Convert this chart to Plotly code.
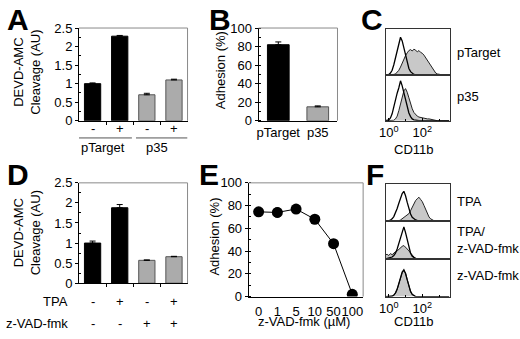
import plotly.graph_objects as go

W, H = 520, 339
FONT = "Arial, Liberation Sans, sans-serif"

# ---------------- data ----------------
# Panel A
a_groups = ["pTarget", "p35"]
a_signs = ["-", "+", "-", "+"]
a_values = [1.00, 2.28, 0.70, 1.10]
a_errors = [0.02, 0.02, 0.04, 0.02]

# Panel B
b_categories = ["pTarget", "p35"]
b_values = [82, 15]
b_errors = [3, 1]

# Panel D
d_tpa = ["-", "+", "-", "+"]
d_zvad = ["-", "-", "+", "+"]
d_values = [1.00, 1.88, 0.57, 0.66]
d_errors = [0.05, 0.08, 0.01, 0.01]

# Panel E
e_doses = ["0", "1", "5", "10", "50", "100"]
e_values = [74.5, 74.0, 77.0, 68.0, 46.5, 2.0]
e_errors = [1.5, 4.0, 1.5, 1.5, 2.0, 1.0]

# Flow histograms (log10 CD11b bins, relative counts)
hist_bins = [-0.2, -0.1, 0.0, 0.1, 0.2, 0.3, 0.4, 0.5, 0.6, 0.7, 0.8, 0.9, 1.0,
             1.1, 1.2, 1.3, 1.4, 1.5, 1.6, 1.7, 1.8, 1.9, 2.0, 2.1, 2.2, 2.3,
             2.4, 2.5, 2.6, 2.7, 2.8, 2.9, 3.0, 3.1, 3.2, 3.3, 3.4, 3.5, 3.6]
c_ptarget_open = [0, 0, 0.01, 0.04, 0.10, 0.22, 0.38, 0.50, 0.63, 0.82, 0.74, 0.58, 0.40,
                  0.26, 0.14, 0.07, 0.03, 0.01, 0, 0, 0, 0, 0, 0, 0, 0,
                  0, 0, 0, 0, 0, 0, 0, 0, 0, 0, 0, 0, 0]
c_ptarget_fill = [0, 0, 0, 0, 0, 0.01, 0.02, 0.05, 0.10, 0.17, 0.26, 0.35, 0.42,
                  0.48, 0.53, 0.55, 0.52, 0.56, 0.54, 0.50, 0.53, 0.49, 0.47, 0.43, 0.37, 0.31,
                  0.25, 0.19, 0.13, 0.08, 0.04, 0.02, 0.01, 0, 0, 0, 0, 0, 0]
c_p35_open = [0, 0.01, 0.02, 0.06, 0.15, 0.30, 0.47, 0.60, 0.72, 0.87, 0.76, 0.62, 0.46,
              0.30, 0.17, 0.09, 0.04, 0.02, 0.01, 0, 0, 0, 0, 0, 0, 0,
              0, 0, 0, 0, 0, 0, 0, 0, 0, 0, 0, 0, 0]
c_p35_fill = [0, 0, 0, 0, 0, 0.01, 0.04, 0.10, 0.22, 0.38, 0.55, 0.65, 0.70,
              0.62, 0.50, 0.37, 0.26, 0.18, 0.13, 0.10, 0.08, 0.07, 0.06, 0.05, 0.05, 0.04,
              0.04, 0.03, 0.02, 0.02, 0.01, 0, 0, 0, 0, 0, 0, 0, 0]
f_tpa_open = [0, 0, 0.01, 0.03, 0.06, 0.12, 0.22, 0.34, 0.48, 0.62, 0.74, 0.80, 0.68,
              0.50, 0.33, 0.19, 0.10, 0.05, 0.03, 0.02, 0.01, 0, 0, 0, 0, 0,
              0, 0, 0, 0, 0, 0, 0, 0, 0, 0, 0, 0, 0]
f_tpa_fill = [0, 0, 0, 0, 0, 0, 0, 0, 0.01, 0.03, 0.06, 0.09, 0.12,
              0.15, 0.20, 0.28, 0.38, 0.48, 0.55, 0.60, 0.64, 0.58, 0.52, 0.42, 0.30, 0.19,
              0.11, 0.06, 0.03, 0.01, 0, 0, 0, 0, 0, 0, 0, 0, 0]
f_tpazvad_open = [0.01, 0.02, 0.03, 0.04, 0.06, 0.10, 0.16, 0.27, 0.42, 0.60, 0.77, 0.85, 0.70,
                  0.50, 0.30, 0.16, 0.08, 0.04, 0.02, 0.01, 0, 0, 0, 0, 0, 0,
                  0, 0, 0, 0, 0, 0, 0, 0, 0, 0, 0, 0, 0]
f_tpazvad_fill = [0.12, 0.13, 0.10, 0.15, 0.12, 0.17, 0.20, 0.22, 0.27, 0.30, 0.34, 0.36, 0.30,
                  0.27, 0.22, 0.16, 0.10, 0.06, 0.03, 0.01, 0, 0, 0, 0, 0, 0,
                  0, 0, 0, 0, 0, 0, 0, 0, 0, 0, 0, 0, 0]
f_zvad_open = [0, 0, 0, 0, 0.01, 0.04, 0.10, 0.20, 0.34, 0.52, 0.66, 0.72, 0.62,
               0.45, 0.28, 0.14, 0.06, 0.02, 0, 0, 0, 0, 0, 0, 0, 0,
               0, 0, 0, 0, 0, 0, 0, 0, 0, 0, 0, 0, 0]
f_zvad_fill = [0, 0, 0, 0, 0.01, 0.03, 0.09, 0.19, 0.33, 0.50, 0.64, 0.70, 0.63,
               0.46, 0.27, 0.13, 0.05, 0.02, 0, 0, 0, 0, 0, 0, 0, 0,
               0, 0, 0, 0, 0, 0, 0, 0, 0, 0, 0, 0, 0]
hist_tickvals = [0, 2]
hist_ticktext = ["10<sup>0</sup>", "10<sup>2</sup>"]
hist_minorvals = [1, 3]

# ---------------- helpers ----------------
def fx(p):
    return p / W


def fy(p):
    return 1 - p / H


BLACK = "#000000"
GRAYBAR = "#ababab"
GRAYFILL = "#c8c8c8"
BORDER = "#8a8a8a"

fig = go.Figure()

# axis boxes (pixel coordinates)
boxes = {
    1: ((73, 183), (22, 119)),    # A
    2: ((255, 335), (22, 119)),   # B
    3: ((384, 449), (23, 71)),    # C top
    4: ((384, 449), (71, 119)),   # C bottom
    5: ((73, 183), (184, 289)),   # D
    6: ((245, 361), (184, 303)),  # E
    7: ((384, 449), (185, 224)),  # F1
    8: ((384, 449), (224, 264)),  # F2
    9: ((384, 449), (264, 303)),  # F3
}


def key(n, ax):
    return ax + ("" if n == 1 else str(n))


def ref(n, ax):
    return ax[0] + ("" if n == 1 else str(n))


tickfont = dict(family=FONT, size=13, color=BLACK)
layout = {}
for n, ((x0, x1), (y0, y1)) in boxes.items():
    layout[key(n, "xaxis")] = dict(domain=[fx(x0), fx(x1)], anchor=ref(n, "y"),
                                   showgrid=False, zeroline=False, tickfont=tickfont)
    layout[key(n, "yaxis")] = dict(domain=[fy(y1), fy(y0)], anchor=ref(n, "x"),
                                   showgrid=False, zeroline=False, tickfont=tickfont)

bar_colors = [BLACK, BLACK, GRAYBAR, GRAYBAR]
bar_lines = ["#000000", "#000000", "#555555", "#555555"]

# Panel A bars
fig.add_trace(go.Bar(
    x=list(range(len(a_values))), y=a_values, width=0.6,
    marker=dict(color=bar_colors, line=dict(color=bar_lines, width=1)),
    error_y=dict(type="data", array=a_errors, arrayminus=[0] * len(a_errors),
                 symmetric=False, color=BLACK, thickness=1, width=3),
    xaxis="x", yaxis="y", showlegend=False))

# Panel B bars
fig.add_trace(go.Bar(
    x=b_categories, y=b_values, width=0.55,
    marker=dict(color=[BLACK, GRAYBAR], line=dict(color=["#000000", "#555555"], width=1)),
    error_y=dict(type="data", array=b_errors, arrayminus=[0] * len(b_errors),
                 symmetric=False, color=BLACK, thickness=1, width=3),
    xaxis="x2", yaxis="y2", showlegend=False))

# Panel D bars
fig.add_trace(go.Bar(
    x=list(range(len(d_values))), y=d_values, width=0.6,
    marker=dict(color=bar_colors, line=dict(color=bar_lines, width=1)),
    error_y=dict(type="data", array=d_errors, arrayminus=[0] * len(d_errors),
                 symmetric=False, color=BLACK, thickness=1, width=3),
    xaxis="x5", yaxis="y5", showlegend=False))

# Panel E line
fig.add_trace(go.Scatter(
    x=list(range(len(e_values))), y=e_values, mode="lines+markers",
    line=dict(color=BLACK, width=1), marker=dict(color=BLACK, size=11),
    error_y=dict(type="data", array=e_errors, color=BLACK, thickness=1, width=2),
    xaxis="x6", yaxis="y6", showlegend=False))

# Histograms
hists = [
    (3, c_ptarget_fill, c_ptarget_open),
    (4, c_p35_fill, c_p35_open),
    (7, f_tpa_fill, f_tpa_open),
    (8, f_tpazvad_fill, f_tpazvad_open),
    (9, f_zvad_fill, f_zvad_open),
]
for n, filled, open_ in hists:
    fig.add_trace(go.Scatter(x=hist_bins, y=filled, mode="lines", fill="tozeroy",
                             fillcolor=GRAYFILL, line=dict(color="#222222", width=1),
                             xaxis=ref(n, "x"), yaxis=ref(n, "y"), showlegend=False))
    fig.add_trace(go.Scatter(x=hist_bins, y=open_, mode="lines",
                             line=dict(color=BLACK, width=1.3),
                             xaxis=ref(n, "x"), yaxis=ref(n, "y"), showlegend=False))

# ---------- axis styling ----------
axline = dict(showline=True, linecolor=BLACK, linewidth=1)
# A and D
for n, vals in ((1, a_values), (5, d_values)):
    layout[key(n, "xaxis")].update(axline, range=[-0.5, len(vals) - 0.5],
                                   tickvals=[0.5, 1.5, 2.5], showticklabels=False,
                                   ticks="outside", ticklen=3, tickcolor=BLACK)
    layout[key(n, "yaxis")].update(axline, range=[0, 2.5], tickvals=[0, 0.5, 1, 1.5, 2, 2.5],
                                   ticks="outside", ticklen=3, tickcolor=BLACK,
                                   minor=dict(tickvals=[0.25, 0.75, 1.25, 1.75, 2.25],
                                              ticks="inside", ticklen=2, tickcolor=BLACK))
# B
layout["xaxis2"].update(axline, range=[-0.5, 1.5], ticks="", tickangle=0)
layout["yaxis2"].update(axline, range=[0, 100], dtick=20, ticks="outside", ticklen=3,
                        tickcolor=BLACK,
                        minor=dict(dtick=10, ticks="inside", ticklen=2, tickcolor=BLACK))
# E
layout["xaxis6"].update(axline, range=[-0.53, 5.58], tickvals=list(range(len(e_doses))),
                        ticktext=e_doses, ticks="", tickangle=0, ticklabelstandoff=3)
layout["yaxis6"].update(axline, range=[0, 100], dtick=20, ticks="outside", ticklen=3,
                        tickcolor=BLACK,
                        minor=dict(dtick=10, ticks="inside", ticklen=2, tickcolor=BLACK))
# histogram panels
for n in (3, 4, 7, 8, 9):
    last = n in (4, 9)
    layout[key(n, "xaxis")].update(showline=True, linecolor="#333333", linewidth=1, mirror=True,
                                   range=[-0.176, 3.65], tickvals=hist_tickvals,
                                   ticktext=hist_ticktext, tickangle=0,
                                   showticklabels=last, ticks="inside" if last else "",
                                   ticklen=3, tickcolor=BLACK,
                                   minor=dict(tickvals=hist_minorvals,
                                              ticks="inside" if last else "",
                                              ticklen=2, tickcolor=BLACK))
    layout[key(n, "yaxis")].update(showline=True, linecolor="#333333", linewidth=1, mirror=True,
                                   range=[0, 1.0], showticklabels=False, ticks="")

# ---------- shapes ----------
shapes = []
for n in (1, 2, 5, 6):
    xr, yr = ref(n, "x") + " domain", ref(n, "y") + " domain"
    shapes.append(dict(type="line", xref=xr, yref=yr, x0=0, x1=1, y0=1, y1=1,
                       line=dict(color=BORDER, width=1)))
    shapes.append(dict(type="line", xref=xr, yref=yr, x0=1, x1=1, y0=0, y1=1,
                       line=dict(color=BORDER, width=1)))
# group underlines in A
for g_i in range(len(a_groups)):
    shapes.append(dict(type="line", xref="x", yref="paper",
                       x0=2 * g_i - 0.55 + (0.15 if g_i else 0), x1=2 * g_i + 1.45 + (0.05 if g_i else 0),
                       y0=fy(137), y1=fy(137), line=dict(color="#555555", width=1)))

# ---------- annotations ----------
ann = []


def text(x, y, t, size=13, xanchor="center", yanchor="middle", xref="paper", bold=False,
         angle=0):
    ann.append(dict(x=x, y=y, text=("<b>%s</b>" % t) if bold else t, xref=xref, yref="paper",
                    xanchor=xanchor, yanchor=yanchor, showarrow=False, textangle=angle,
                    font=dict(family=FONT, size=size, color=BLACK)))


for letter, px, py in (("A", 11, 13), ("B", 216, 13), ("C", 370, 13),
                       ("D", 11, 175), ("E", 205, 175), ("F", 373, 175)):
    text(fx(px), fy(py), letter, size=30, bold=True)

# A signs and groups
for i, s in enumerate(a_signs):
    text(i, fy(127), s, xref="x")
for g_i, g in enumerate(a_groups):
    text(2 * g_i + 0.5 - 0.12, fy(147), g, xref="x")
# D rows
for i, s in enumerate(d_tpa):
    text(i, fy(308), s, xref="x5")
for i, s in enumerate(d_zvad):
    text(i, fy(331), s, xref="x5")
text(fx(64), fy(308), "TPA", xanchor="right")
text(fx(64), fy(331), "z-VAD-fmk", xanchor="right")

# axis titles
text(fx(20), fy(68), "DEVD-AMC<br>Cleavage (AU)", angle=-90)
text(fx(20), fy(236), "DEVD-AMC<br>Cleavage (AU)", angle=-90)
text(fx(216), fy(66), "Adhesion (%)", angle=-90)
text(fx(210), fy(240), "Adhesion (%)", angle=-90)
text(fx(301), fy(339), "z-VAD-fmk (µM)", yanchor="bottom")
text(fx(413), fy(149), "CD11b")
text(fx(413), fy(329), "CD11b")

# histogram labels
text(fx(454), fy(48), "pTarget", xanchor="left")
text(fx(454), fy(94), "p35", xanchor="left")
text(fx(454), fy(203), "TPA", xanchor="left")
ann.append(dict(x=fx(454), y=fy(244), text="TPA/<br>z-VAD-fmk", xref="paper", yref="paper",
                xanchor="left", yanchor="middle", align="left", showarrow=False,
                font=dict(family=FONT, size=13, color=BLACK)))
text(fx(454), fy(281), "z-VAD-fmk", xanchor="left")

fig.update_layout(**layout)
fig.update_layout(width=W, height=H, margin=dict(l=0, r=0, t=0, b=0),
                  paper_bgcolor="white", plot_bgcolor="white", shapes=shapes,
                  annotations=ann, hovermode=False, bargap=0.4,
                  font=dict(family=FONT, size=13, color=BLACK))

fig.write_html("out.html", config={"displayModeBar": False},
               post_script="document.body.style.margin='0';"
                           "document.body.style.overflow='hidden';")
